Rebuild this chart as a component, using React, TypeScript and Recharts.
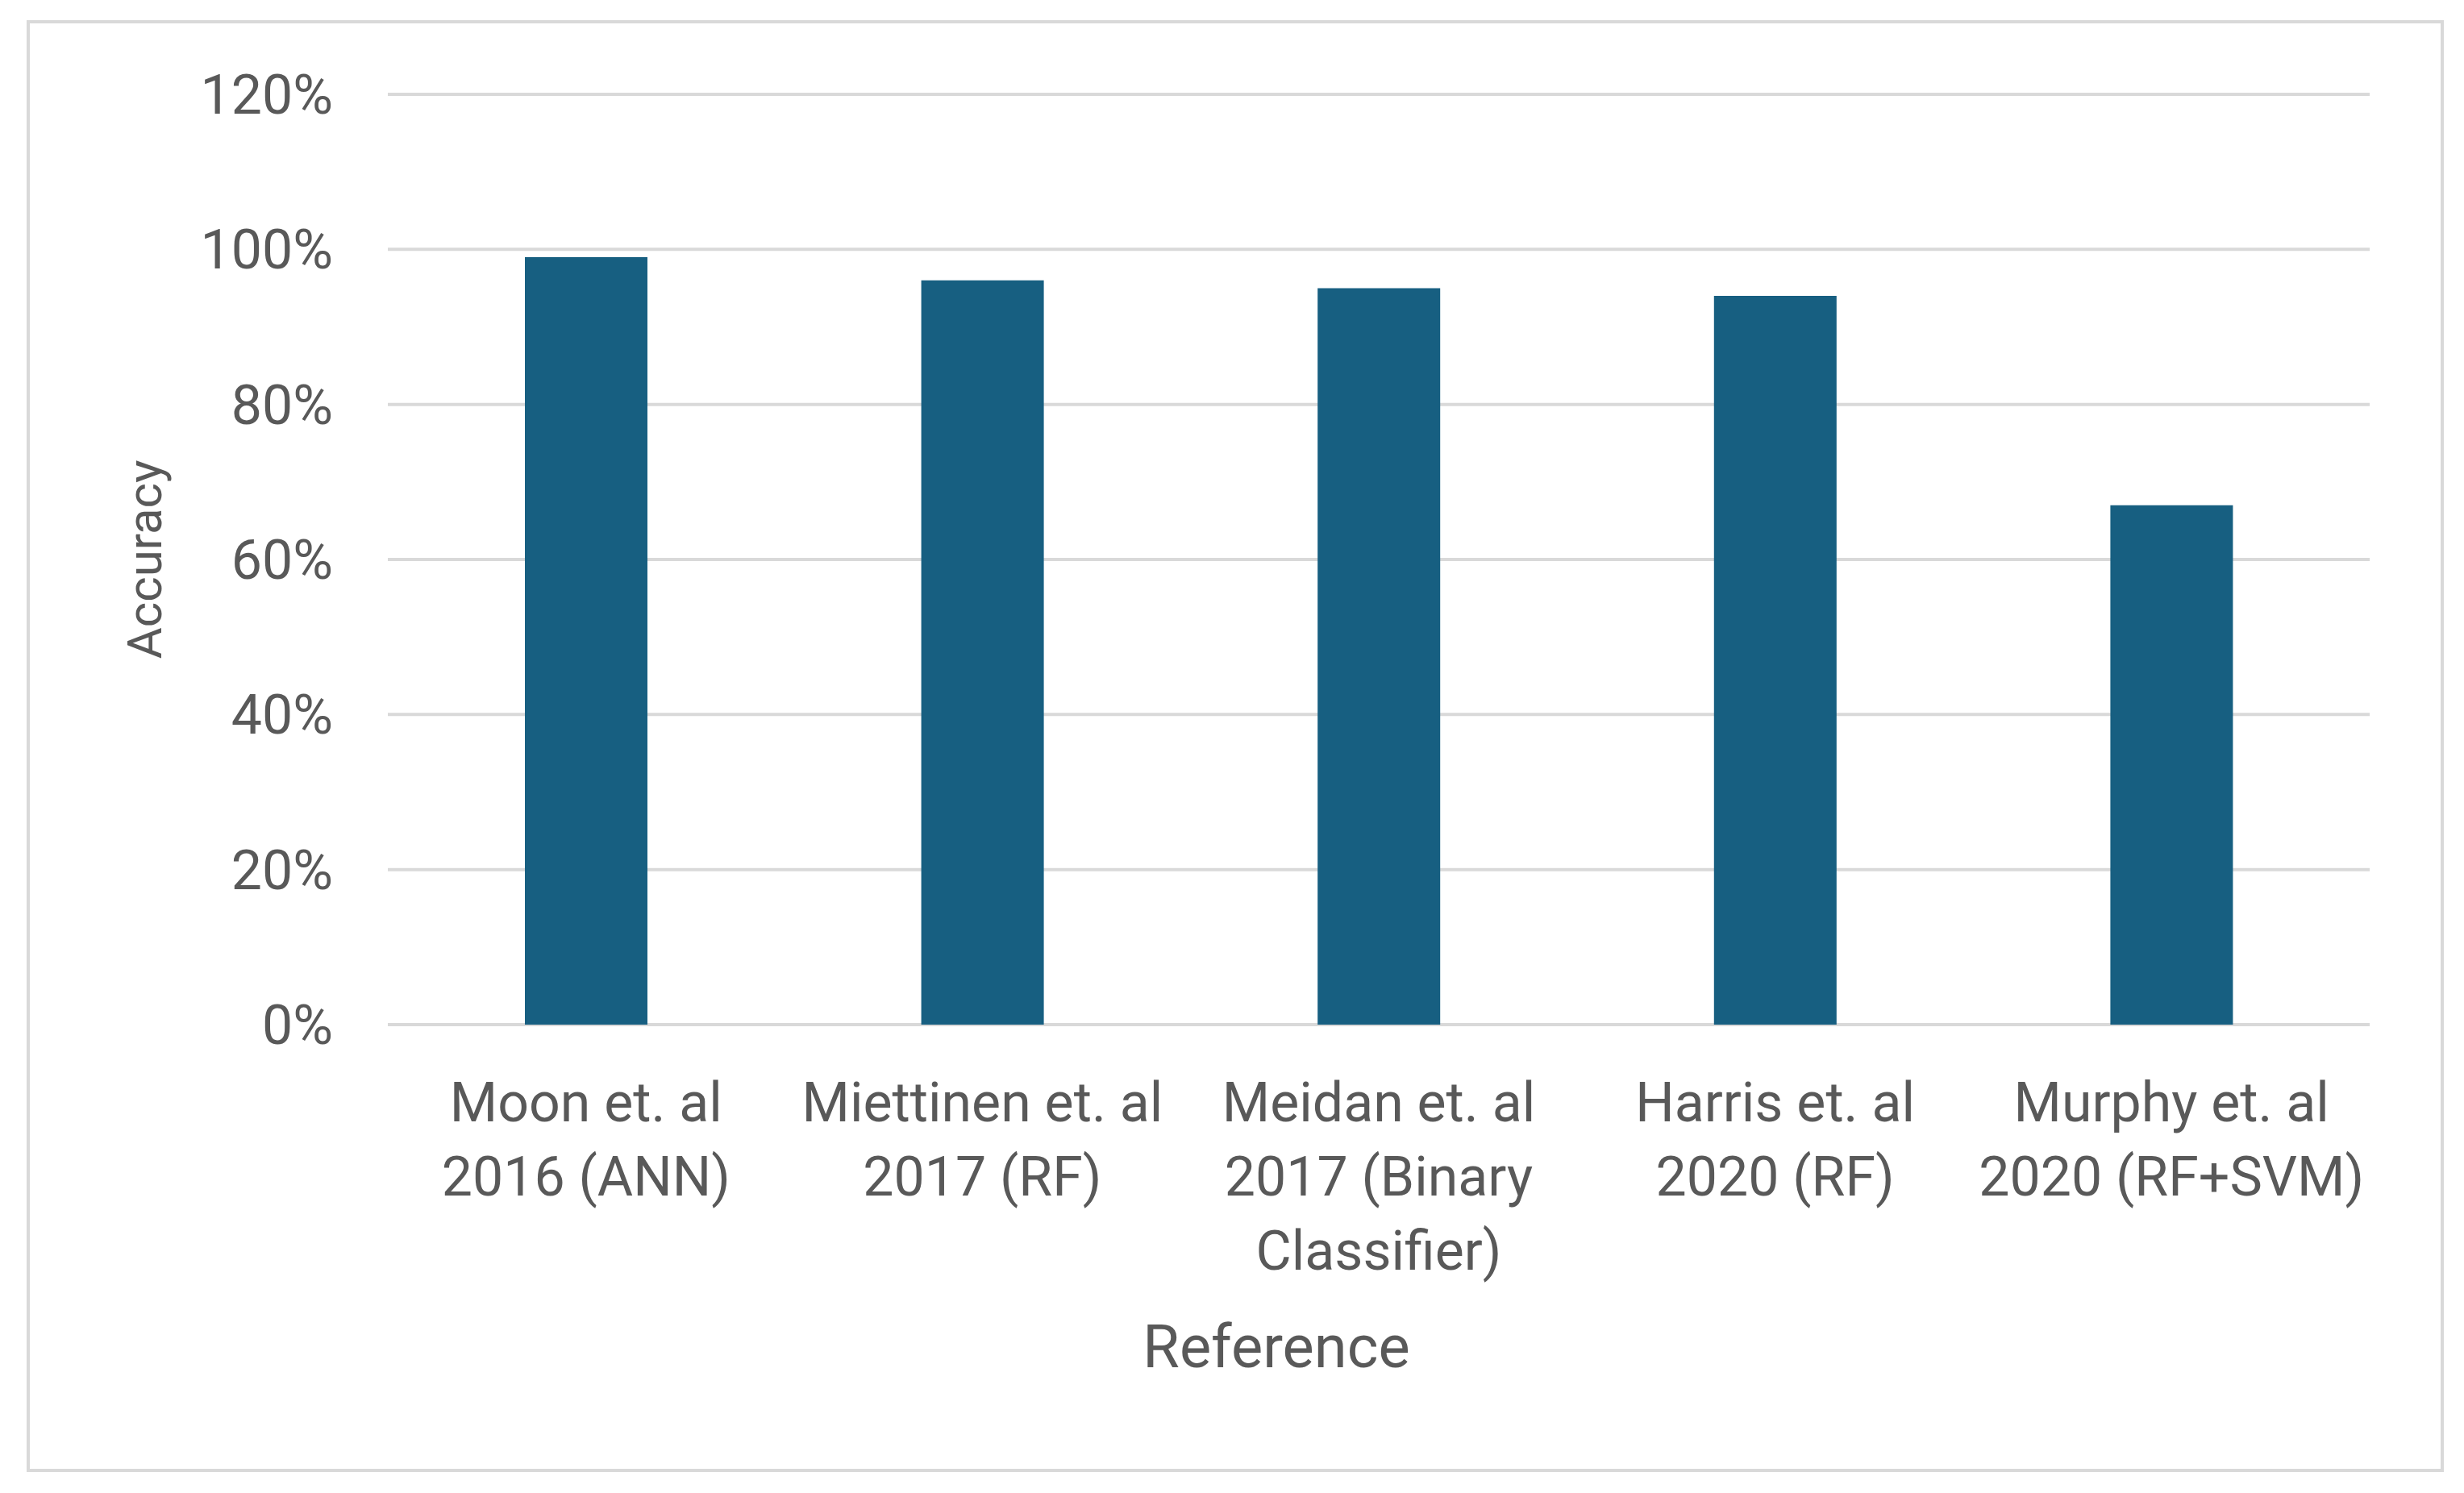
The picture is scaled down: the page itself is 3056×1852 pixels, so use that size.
import { BarChart, Bar, XAxis, YAxis, CartesianGrid, Label } from 'recharts';

const categories = [
  'Moon et. al\n2016 (ANN)',
  'Miettinen et. al\n2017 (RF)',
  'Meidan et. al\n2017 (Binary\nClassifier)',
  'Harris et. al\n2020 (RF)',
  'Murphy et. al\n2020 (RF+SVM)',
];
const accuracy = [0.99, 0.96, 0.95, 0.94, 0.67];
const yTicks = [0, 0.2, 0.4, 0.6, 0.8, 1.0, 1.2];

const TEXT = '#595959';
const GRID = '#D9D9D9';
const BAR = '#175F81';
const FONT = 'Roboto, "Open Sans", sans-serif';

const data = categories.map((name, i) => ({ name, value: accuracy[i] }));

// multi-line category labels, centred under each bar
const CategoryTick = (props: any) => {
  const { x, y, payload } = props;
  const lines = String(payload.value).split('\n');
  return (
    <text x={x} y={y} textAnchor="middle" fill={TEXT} fontSize={68} fontFamily={FONT}>
      {lines.map((line, i) => (
        <tspan key={i} x={x} dy={i === 0 ? 120 : 92}>
          {line}
        </tspan>
      ))}
    </text>
  );
};

const YTitle = (props: any) => {
  const { viewBox } = props;
  const cx = viewBox.x + 142;
  const cy = viewBox.y + viewBox.height / 2;
  return (
    <text
      x={cx}
      y={cy}
      transform={`rotate(-90, ${cx}, ${cy})`}
      textAnchor="middle"
      dominantBaseline="central"
      fill={TEXT}
      fontSize={60}
      fontFamily={FONT}
    >
      Accuracy
    </text>
  );
};

const XTitle = (props: any) => {
  const { viewBox } = props;
  const cx = viewBox.x + viewBox.width / 2 - 127;
  return (
    <text x={cx} y={viewBox.y + 425} textAnchor="middle" fill={TEXT} fontSize={74} fontFamily={FONT}>
      Reference
    </text>
  );
};

export default function App() {
  return (
    <div
      style={{
        position: 'absolute',
        left: 33,
        top: 25,
        width: 2998,
        height: 1801,
        border: `4px solid ${GRID}`,
        boxSizing: 'border-box',
        background: '#fff',
      }}
    >
      <BarChart
        width={2990}
        height={1793}
        data={data}
        margin={{ top: 88, right: 88, left: 0, bottom: 0 }}
      >
        <CartesianGrid vertical={false} stroke={GRID} strokeWidth={4} />
        <XAxis
          dataKey="name"
          height={551}
          axisLine={false}
          tickLine={false}
          tickSize={0}
          tickMargin={0}
          interval={0}
          tick={<CategoryTick />}
        >
          <Label content={<XTitle />} />
        </XAxis>
        <YAxis
          width={444}
          domain={[0, 1.2]}
          ticks={yTicks}
          axisLine={false}
          tickLine={false}
          tickSize={0}
          tickMargin={68}
          tickFormatter={(v: number) => `${Math.round(v * 100)}%`}
          tick={{ fill: TEXT, fontSize: 68, fontFamily: FONT }}
        >
          <Label content={<YTitle />} />
        </YAxis>
        <Bar dataKey="value" fill={BAR} barSize={152} isAnimationActive={false} />
      </BarChart>
    </div>
  );
}
